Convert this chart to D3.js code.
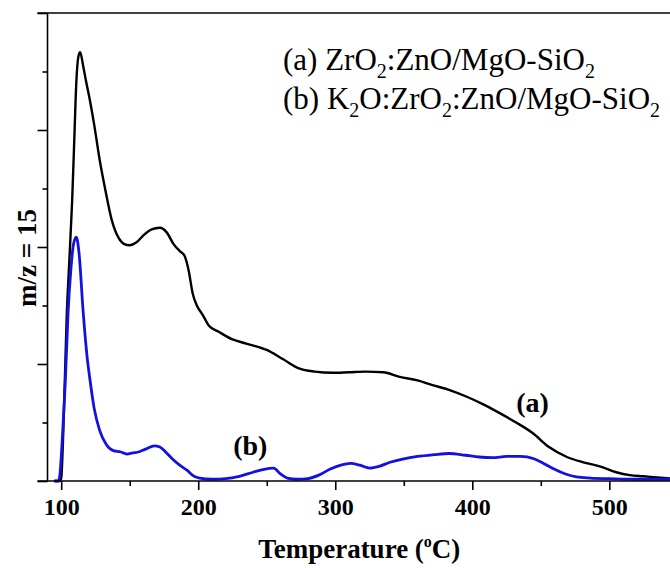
<!DOCTYPE html>
<html>
<head>
<meta charset="utf-8">
<script src="https://cdn.jsdelivr.net/npm/d3@7"></script>
<style>
  html, body { margin: 0; padding: 0; background: #fff; }
  svg { display: block; }
</style>
</head>
<body>
<script>
// ---- data ----
const seriesA = [ // (a) ZrO2:ZnO/MgO-SiO2 : [temperature, signal]
  [95,0],[99,0],[100,0.05],[102,1.2],[104,2.8],[106,3.8],[108,4.8],[109.5,5.8],[111,6.8],[112.5,7.25],[113.8,7.33],
  [116,7.1],[118,6.85],[121,6.5],[124,6.1],[128,5.5],[132,5.0],[137,4.45],[142,4.15],[146,4.05],[150,4.03],
  [155,4.08],[160,4.2],[166,4.3],[172,4.33],[177,4.25],[182,4.05],[187,3.92],[190,3.85],[193,3.6],[196,3.2],
  [199,3.0],[203,2.85],[208,2.65],[215,2.55],[225,2.42],[235,2.35],[250,2.24],[262,2.08],[274,1.92],[285,1.87],
  [298,1.85],[310,1.86],[322,1.87],[335,1.86],[347,1.78],[360,1.72],[371,1.64],[384,1.55],[396,1.44],[408,1.31],
  [420,1.16],[432,1.0],[444,0.82],[456,0.58],[469,0.41],[481,0.32],[493,0.25],[505,0.15],[515,0.1],[525,0.08],
  [535,0.06],[545,0.04]
];
const seriesB = [ // (b) K2O:ZrO2:ZnO/MgO-SiO2
  [95,0],[98,0],[99,0.1],[101,0.8],[103,1.7],[105,2.87],[107,3.6],[109,4.05],[111,4.17],[113,3.9],[116,2.9],
  [119,2.1],[121,1.73],[124,1.25],[128,0.87],[133,0.62],[138,0.52],[143,0.5],[148,0.46],[152,0.48],[157,0.5],
  [162,0.55],[168,0.6],[172,0.58],[176,0.5],[181,0.38],[186,0.28],[192,0.18],[197,0.08],[201,0.05],[210,0.03],
  [220,0.04],[230,0.08],[240,0.15],[248,0.2],[255,0.22],[260,0.12],[265,0.05],[272,0.03],[280,0.04],[288,0.1],
  [296,0.2],[304,0.27],[311,0.3],[318,0.27],[325,0.22],[332,0.25],[340,0.32],[350,0.38],[360,0.42],[372,0.45],
  [383,0.47],[395,0.44],[405,0.41],[415,0.4],[425,0.42],[435,0.42],[445,0.38],[452,0.3],[460,0.2],[468,0.12],
  [476,0.07],[486,0.05],[500,0.04],[520,0.03],[545,0.03]
];
const xMajorTicks = [100, 200, 300, 400, 500];
const xMinorTicks = [150, 250, 350, 450];
const yMajorTicks = [0, 2, 4, 6, 8];
const yMinorTicks = [1, 3, 5, 7];
const xTitle = "Temperature";
const yTitle = "m/z = 15";
const seriesLabels = ["(a)", "(b)"];

// ---- chart ----
const W = 670, H = 568;
const mLeft = 47.5, mTop = 13, mBottom = 481, mRight = 671;
const svg = d3.select("body").append("svg").attr("width", W).attr("height", H);

const x = d3.scaleLinear().domain([90, 545]).range([mLeft, mRight]);
const y = d3.scaleLinear().domain([0, 8]).range([mBottom, mTop]);

svg.append("defs").append("clipPath").attr("id", "clip")
  .append("rect").attr("x", mLeft).attr("y", mTop).attr("width", mRight - mLeft).attr("height", mBottom - mTop + 3);

const line = d3.line().x(d => x(d[0])).y(d => y(d[1])).curve(d3.curveMonotoneX);

const g = svg.append("g").attr("clip-path", "url(#clip)");
g.append("path").datum(seriesA).attr("d", line)
  .attr("fill", "none").attr("stroke", "#000").attr("stroke-width", 2.4).attr("stroke-linejoin", "round");
g.append("path").datum(seriesB).attr("d", line)
  .attr("fill", "none").attr("stroke", "#1212e0").attr("stroke-width", 2.8).attr("stroke-linejoin", "round");

const font = "'Liberation Serif', 'Times New Roman', serif";

// x axis
const xAxisMajor = svg.append("g").attr("transform", `translate(0,${mBottom})`)
  .call(d3.axisBottom(x).tickValues(xMajorTicks).tickSize(9).tickPadding(8).tickFormat(d3.format("d")));
const xAxisMinor = svg.append("g").attr("transform", `translate(0,${mBottom})`)
  .call(d3.axisBottom(x).tickValues(xMinorTicks).tickSize(5).tickFormat(""));
// y axis
const yAxisMajor = svg.append("g").attr("transform", `translate(${mLeft},0)`)
  .call(d3.axisLeft(y).tickValues(yMajorTicks).tickSize(10).tickFormat(""));
const yAxisMinor = svg.append("g").attr("transform", `translate(${mLeft},0)`)
  .call(d3.axisLeft(y).tickValues(yMinorTicks).tickSize(5).tickFormat(""));

[xAxisMajor, xAxisMinor, yAxisMajor, yAxisMinor].forEach(a => {
  a.select(".domain").remove();
  a.selectAll(".tick line").attr("stroke", "#000").attr("stroke-width", 1.6);
});
xAxisMajor.selectAll(".tick text")
  .attr("font-family", font).attr("font-weight", "bold").attr("font-size", 24).attr("fill", "#000");

// frame lines
svg.append("line").attr("x1", mLeft - 10).attr("x2", W).attr("y1", mBottom).attr("y2", mBottom)
  .attr("stroke", "#000").attr("stroke-width", 1.6);
svg.append("line").attr("x1", mLeft - 10).attr("x2", W).attr("y1", mTop).attr("y2", mTop)
  .attr("stroke", "#000").attr("stroke-width", 1.6);
svg.append("line").attr("x1", mLeft).attr("x2", mLeft).attr("y1", mTop).attr("y2", mBottom)
  .attr("stroke", "#000").attr("stroke-width", 1.6);

// x title
const xt = svg.append("text").attr("x", (mLeft + mRight) / 2).attr("y", 558)
  .attr("text-anchor", "middle").attr("font-family", font).attr("font-weight", "bold").attr("font-size", 27);
xt.append("tspan").text(xTitle + " (");
xt.append("tspan").text("o").attr("font-size", 16).attr("dy", -11);
xt.append("tspan").text("C)").attr("dy", 11);

// y title
svg.append("text").attr("transform", `translate(36,258) rotate(-90)`)
  .attr("text-anchor", "middle").attr("font-family", font).attr("font-weight", "bold").attr("font-size", 27)
  .text(yTitle);

// legend (chemical formulas with subscripts)
function formula(yPos, parts) {
  const t = svg.append("text").attr("x", 283).attr("y", yPos)
    .attr("font-family", font).attr("font-size", 31).attr("fill", "#000");
  parts.forEach(p => {
    if (p.sub) {
      t.append("tspan").text(p.sub).attr("font-size", 20).attr("dy", 8);
    } else {
      t.append("tspan").text(p.t).attr("dy", p.after ? -8 : 0);
    }
  });
}
formula(70, [{t: "(a) ZrO"}, {sub: "2"}, {t: ":ZnO/MgO-SiO", after: true}, {sub: "2"}]);
formula(109, [{t: "(b) K"}, {sub: "2"}, {t: "O:ZrO", after: true}, {sub: "2"}, {t: ":ZnO/MgO-SiO", after: true}, {sub: "2"}]);

// curve labels
svg.append("text").attr("x", x(444)).attr("y", 412).attr("text-anchor", "middle")
  .attr("font-family", font).attr("font-weight", "bold").attr("font-size", 28).text(seriesLabels[0]);
svg.append("text").attr("x", x(238)).attr("y", 455).attr("text-anchor", "middle")
  .attr("font-family", font).attr("font-weight", "bold").attr("font-size", 28).text(seriesLabels[1]);
</script>
</body>
</html>
